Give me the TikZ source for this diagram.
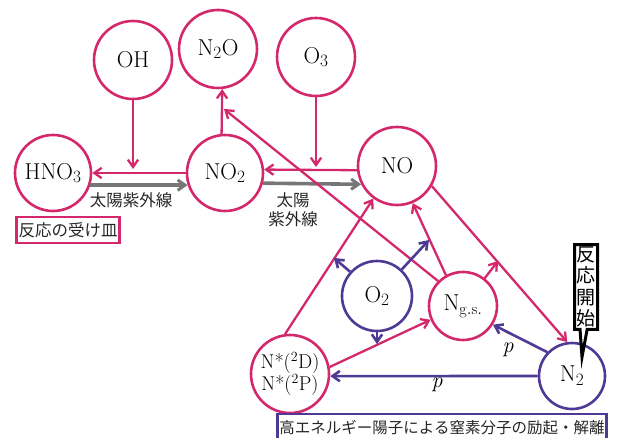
\documentclass[tikz,border=0pt]{standalone}
\usepackage{fontspec}
\newfontfamily\jp{Noto Sans CJK JP}
\usetikzlibrary{arrows.meta,shapes.callouts}
\definecolor{pk}{RGB}{212,40,108}
\definecolor{pu}{RGB}{78,58,148}
\definecolor{gr}{RGB}{118,118,118}
\begin{document}
\begin{tikzpicture}[x=1pt,y=-1pt,
  chem/.style={font=\fontsize{23}{25}\selectfont},
  pc/.style={circle,draw=pk,line width=2.6pt,inner sep=0pt,minimum size=78pt,chem,fill=white},
  bc/.style={circle,draw=pu,line width=2.6pt,inner sep=0pt,minimum size=70pt,chem,fill=white},
  pa/.style={draw=pk,line width=2.3pt,-{Straight Barb[angle=70:9pt,line width=2.3pt]}},
  ba/.style={draw=pu,line width=2.6pt,-{Straight Barb[angle=70:9pt,line width=2.6pt]}},
  ga/.style={draw=gr,line width=3.6pt,-{Straight Barb[angle=70:9pt,line width=3pt]}},
  jt/.style={font=\jp\fontsize{16.5}{19}\selectfont,text=black!85},
  plab/.style={font=\fontsize{22}{24}\selectfont\itshape}
]
\useasboundingbox (0,0) rectangle (617,438);
% nodes
\node[pc] (OH) at (133,60) {OH};
\node[pc] (N2O) at (218,49) {N$_2$O};
\node[pc] (O3) at (316,57) {O$_3$};
\node[pc,minimum size=76pt] (HNO3) at (53,173) {HNO$_3$};
\node[pc,minimum size=76pt] (NO2) at (225,173) {NO$_2$};
\node[pc] (NO) at (397,166) {NO};
\node[bc] (O2) at (377,296) {O$_2$};
\node[pc,minimum size=68pt] (Ng) at (463,306) {N$_{\mathrm{g.s.}}$};
\node[bc,minimum size=66pt] (N2) at (572,376) {N$_2$};
\node[pc,minimum size=78pt,align=center,font=\fontsize{20}{22}\selectfont] (Nst) at (290,374) {N*(\textsuperscript{2}D)\\N*(\textsuperscript{2}P)};
% coordinates for free ends
\coordinate (OHt) at (133,169);
\coordinate (O3t) at (316,167);
\coordinate (N2Ot) at (224,109);
\coordinate (NgT) at (498,261);
\coordinate (O2a) at (334,258);
\coordinate (O2b) at (429,240);
\coordinate (O2c) at (377,344);
% gray sunlight arrows
\draw[ga] (HNO3.-18) -- (NO2.198);
\draw[ga] (NO2.-15) -- (NO.207);
\node[jt] (uv1) at (131,200) {太陽紫外線};
\node[jt,align=center] (uv2) at (293,210) {太陽\\紫外線};
% pink reactions
\draw[pa] (NO2.180) -- (HNO3.0);
\draw[pa] (OH.south) -- (OHt);
\draw[pa] (NO.186) -- (NO2.5);
\draw[pa] (O3.south) -- (O3t);
\draw[pa] (NO2.95) -- (N2O.-84);
\draw[pa] (Ng.135) -- (N2Ot);
\draw[pa] (Nst.97) -- (NO.234);
\draw[pa] (Ng.119) -- (NO.293);
\draw[pa] (NO.-30) -- (N2.98);
\draw[pa] (Ng.52) -- (NgT);
\draw[pa] (Nst.10) -- (Ng.203);
% purple
\draw[ba] (O2.138) -- (O2a);
\draw[ba] (O2.47) -- (O2b);
\draw[ba] (O2.-90) -- (O2c);
\draw[ba] (N2.136) -- (Ng.-32);
\draw[ba] (N2.180) -- (Nst.-3);
\node[plab] (p1) at (508,350) {p};
\node[plab] (p2) at (437,385) {p};
% labels
\node[jt,draw=pk,line width=2.5pt,inner sep=2pt,minimum height=26pt] (sink) at (68,230) {反応の受け皿};
\node[jt,draw=pu,line width=2.5pt,inner sep=2pt,minimum height=28pt,font=\jp\fontsize{15.5}{17}\selectfont] (hep) at (442,428) {高エネルギー陽子による窒素分子の励起・解離};
\node[rectangle callout,draw=black,line width=3pt,fill=white,inner sep=2pt,align=center,
  font=\jp\fontsize{19}{21.5}\selectfont,callout absolute pointer={(582,357)}] (start) at (586,287) {反\\応\\開\\始};
\end{tikzpicture}
\end{document}
